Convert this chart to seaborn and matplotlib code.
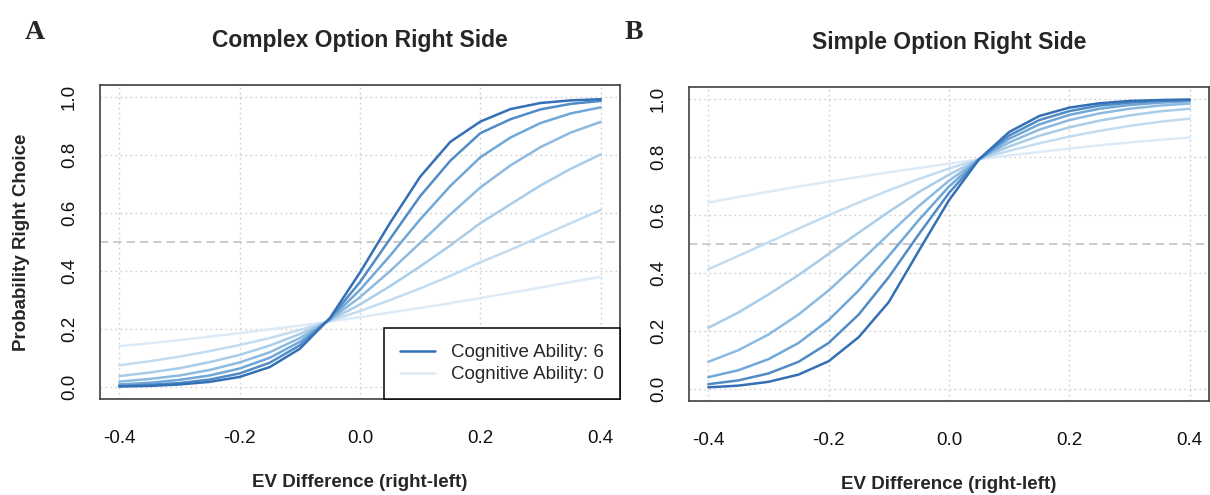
import matplotlib
matplotlib.use("Agg")
import matplotlib.pyplot as plt
from matplotlib.lines import Line2D
import numpy as np
import pandas as pd
import seaborn as sns

# EV difference grid shared by both panels
ev_diff = [-0.40, -0.35, -0.30, -0.25, -0.20, -0.15, -0.10, -0.05, 0.00,
           0.05, 0.10, 0.15, 0.20, 0.25, 0.30, 0.35, 0.40]
abilities = [0, 1, 2, 3, 4, 5, 6]

# Panel A: complex option on the right side, predicted P(right) per ability level
complex_ca0 = [0.141, 0.151, 0.162, 0.174, 0.186, 0.199, 0.212, 0.226, 0.241, 0.257, 0.273, 0.289, 0.307, 0.325, 0.343, 0.362, 0.380]
complex_ca1 = [0.075, 0.089, 0.105, 0.124, 0.145, 0.169, 0.197, 0.228, 0.262, 0.300, 0.340, 0.383, 0.430, 0.473, 0.519, 0.565, 0.610]
complex_ca2 = [0.038, 0.050, 0.065, 0.086, 0.111, 0.143, 0.183, 0.230, 0.285, 0.348, 0.416, 0.488, 0.565, 0.630, 0.695, 0.752, 0.802]
complex_ca3 = [0.019, 0.028, 0.040, 0.059, 0.085, 0.120, 0.169, 0.232, 0.310, 0.400, 0.497, 0.595, 0.688, 0.764, 0.827, 0.877, 0.914]
complex_ca4 = [0.009, 0.015, 0.025, 0.040, 0.064, 0.101, 0.156, 0.234, 0.335, 0.453, 0.578, 0.693, 0.792, 0.860, 0.910, 0.943, 0.964]
complex_ca5 = [0.004, 0.008, 0.014, 0.026, 0.047, 0.084, 0.144, 0.236, 0.362, 0.511, 0.658, 0.780, 0.875, 0.923, 0.957, 0.976, 0.986]
complex_ca6 = [0.002, 0.004, 0.009, 0.018, 0.035, 0.069, 0.132, 0.238, 0.395, 0.566, 0.725, 0.845, 0.915, 0.958, 0.979, 0.988, 0.992]

# Panel B: simple option on the right side
simple_ca0 = [0.643, 0.662, 0.680, 0.698, 0.715, 0.731, 0.747, 0.762, 0.777, 0.792, 0.805, 0.817, 0.829, 0.840, 0.850, 0.859, 0.867]
simple_ca1 = [0.413, 0.459, 0.506, 0.553, 0.599, 0.643, 0.685, 0.724, 0.760, 0.792, 0.821, 0.847, 0.870, 0.890, 0.907, 0.921, 0.932]
simple_ca2 = [0.211, 0.264, 0.326, 0.393, 0.466, 0.539, 0.611, 0.679, 0.739, 0.792, 0.836, 0.873, 0.902, 0.925, 0.943, 0.957, 0.966]
simple_ca3 = [0.094, 0.134, 0.188, 0.257, 0.340, 0.435, 0.534, 0.631, 0.718, 0.792, 0.850, 0.894, 0.927, 0.950, 0.966, 0.977, 0.984]
simple_ca4 = [0.041, 0.065, 0.103, 0.159, 0.238, 0.340, 0.459, 0.583, 0.698, 0.792, 0.863, 0.912, 0.945, 0.966, 0.979, 0.987, 0.992]
simple_ca5 = [0.017, 0.030, 0.054, 0.094, 0.159, 0.257, 0.386, 0.534, 0.676, 0.792, 0.874, 0.927, 0.958, 0.977, 0.987, 0.993, 0.996]
simple_ca6 = [0.006, 0.012, 0.025, 0.050, 0.096, 0.179, 0.300, 0.477, 0.651, 0.792, 0.886, 0.941, 0.970, 0.985, 0.993, 0.996, 0.998]

x_ticks = [-0.4, -0.2, 0.0, 0.2, 0.4]
x_tick_labels = ["-0.4", "-0.2", "0.0", "0.2", "0.4"]
y_ticks = [0.0, 0.2, 0.4, 0.6, 0.8, 1.0]
y_tick_labels = ["0.0", "0.2", "0.4", "0.6", "0.8", "1.0"]
titles = ["Complex Option Right Side", "Simple Option Right Side"]
panel_letters = ["A", "B"]
x_label = "EV Difference (right-left)"
y_label = "Probability Right Choice"
legend_labels = ["Cognitive Ability: 6", "Cognitive Ability: 0"]


def long_frame(series):
    rows = []
    for ability, values in zip(abilities, series):
        for x, p in zip(ev_diff, values):
            rows.append({"ev": x, "p": p, "ability": ability})
    return pd.DataFrame(rows)


complex_df = long_frame([complex_ca0, complex_ca1, complex_ca2, complex_ca3,
                         complex_ca4, complex_ca5, complex_ca6])
simple_df = long_frame([simple_ca0, simple_ca1, simple_ca2, simple_ca3,
                        simple_ca4, simple_ca5, simple_ca6])

sns.set_style("white")
plt.rcParams["font.family"] = ["Liberation Sans", "DejaVu Sans"]

# light-to-dark blue ramp, one shade per ability level
colors = sns.blend_palette(["#dcebf7", "#a9cde9", "#6fa7d8", "#3470b5"],
                           len(abilities))
palette = dict(zip(abilities, colors))

fig = plt.figure(figsize=(12.1, 4.95), dpi=100)
ax_a = fig.add_axes([100 / 1210, 96 / 495, 520 / 1210, 314 / 495])
ax_b = fig.add_axes([689 / 1210, 94 / 495, 520 / 1210, 314 / 495])

edge = "#404040"
for ax, df, title in zip([ax_a, ax_b], [complex_df, simple_df], titles):
    ax.set_axisbelow(True)
    ax.grid(True, color="#cfcfcf", lw=1.0, ls=(0, (1.2, 2.4)))
    ax.axhline(0.5, color="#c2c2c2", lw=1.2, ls=(0, (5, 3)), zorder=1.5)
    sns.lineplot(data=df, x="ev", y="p", hue="ability", hue_order=abilities,
                 palette=palette, estimator=None, lw=1.8, legend=False,
                 ax=ax, zorder=3)
    ax.set_xlim(-0.432, 0.432)
    ax.set_ylim(-0.041, 1.041)
    ax.set_xticks(x_ticks)
    ax.set_xticklabels(x_tick_labels, fontsize=13.5)
    ax.set_yticks(y_ticks)
    ax.set_yticklabels(y_tick_labels, fontsize=13.5, rotation=90, va="center")
    ax.tick_params(axis="x", direction="out", length=8, width=1.0,
                   color=edge, pad=14, labelcolor="#111111")
    ax.tick_params(axis="y", direction="out", length=8, width=1.0,
                   color=edge, pad=8, labelcolor="#111111")
    for side in ax.spines.values():
        side.set_visible(True)
        side.set_color(edge)
        side.set_linewidth(1.2)
    ax.set_title(title, fontsize=16.5, fontweight="bold", pad=27)
    ax.set_xlabel(x_label, fontsize=13.5, fontweight="bold", labelpad=20)
    ax.set_ylabel("")

ax_a.set_ylabel(y_label, fontsize=13.5, fontweight="bold", labelpad=22)

handles = [Line2D([], [], color=palette[6], lw=1.8),
           Line2D([], [], color=palette[0], lw=1.8)]
leg = ax_a.legend(handles, legend_labels, loc="lower right",
                  bbox_to_anchor=(1.0, 0.0), borderaxespad=0.0,
                  frameon=True, fancybox=False, framealpha=1.0,
                  edgecolor="black", fontsize=13.5, handlelength=1.9,
                  handletextpad=0.85, borderpad=0.85, labelspacing=0.25)
leg.get_frame().set_linewidth(1.1)
leg.set_zorder(5)

for letter, x in zip(panel_letters, [25 / 1210, 625 / 1210]):
    fig.text(x, 1 - 20 / 495, letter, fontsize=20, fontweight="bold",
             family="Liberation Serif", va="top", ha="left")

fig.savefig("out.png", dpi=100)
